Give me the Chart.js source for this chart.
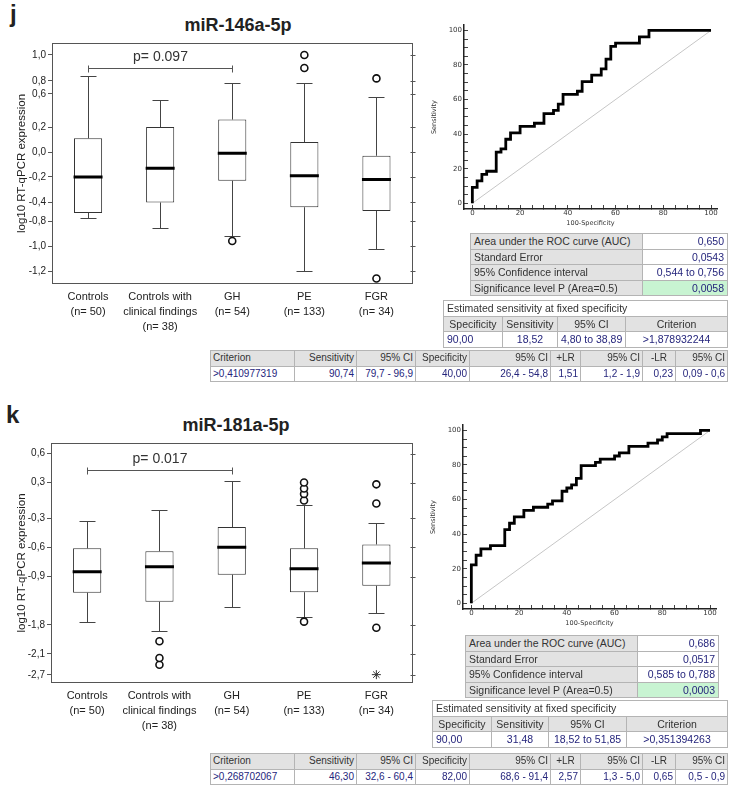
<!DOCTYPE html>
<html>
<head>
<meta charset="utf-8">
<script src="https://cdn.jsdelivr.net/npm/chart.js@4.4.1/dist/chart.umd.min.js"></script>
<style>
body { margin: 0; width: 733px; height: 793px; position: relative; background: #fff; overflow: hidden;
  font-family: "Liberation Sans", Arial, sans-serif; color: #222; }
canvas, .txt, table { position: absolute; }
.letter { font-size: 24px; font-weight: bold; line-height: 24px; }
.title { font-size: 18px; font-weight: bold; width: 200px; text-align: center; line-height: 20px; }
table { border-collapse: collapse; table-layout: fixed; font-size: 10.5px; }
td { border: 1px solid #b4b4b4; height: 14.6px; line-height: 14px; padding: 0 3px; white-space: nowrap; overflow: hidden; color: #333; background: #fff; }
table.crit { font-size: 10px; }
table.crit td { padding: 0 2px; }
td.h { background: #e2e2e2; }
td.v { color: #25257c; text-align: right; }
td.r { text-align: right; }
td.c { text-align: center; }
td.l { text-align: left; }
td.g { background: #c8f4d2; }
</style>
</head>
<body>
<div class="txt letter" style="left:10px;top:2px">j</div>
<div class="txt title" style="left:138px;top:15px">miR-146a-5p</div>
<canvas id="boxJ" width="430" height="345" style="left:0;top:0"></canvas>
<canvas id="rocJ" width="303" height="220" style="left:430px;top:15px"></canvas>
<table id="aucTabJ" style="left:470px;top:233px;width:257px"></table>
<table id="fixTabJ" style="left:443px;top:300px;width:284px"></table>
<table id="critTabJ" class="crit" style="left:210px;top:350px;width:517px"></table>

<div class="txt letter" style="left:6px;top:403px">k</div>
<div class="txt title" style="left:136px;top:415px">miR-181a-5p</div>
<canvas id="boxK" width="430" height="345" style="left:0;top:400px"></canvas>
<canvas id="rocK" width="303" height="220" style="left:429px;top:415px"></canvas>
<table id="aucTabK" style="left:465px;top:635px;width:253px"></table>
<table id="fixTabK" style="left:432px;top:700px;width:295px"></table>
<table id="critTabK" class="crit" style="left:210px;top:753px;width:517px"></table>

<script>
Chart.defaults.font.family = '"Liberation Sans", Arial, sans-serif';

const groups = [['Controls', '(n= 50)'], ['Controls with', 'clinical findings', '(n= 38)'],
  ['GH', '(n= 54)'], ['PE', '(n= 133)'], ['FGR', '(n= 34)']];

// miR-146a-5p box plot (log10 values)
const jMin = [-0.74, -0.86, -0.92, -1.20, -1.02];
const jQ1 = [-0.63, -0.41, -0.23, -0.51, -0.59];
const jMed = [-0.20, -0.13, -0.01, -0.19, -0.22];
const jQ3 = [0.11, 0.20, 0.29, 0.08, -0.03];
const jMax = [0.84, 0.53, 0.77, 0.77, 0.56];
const jOut = [[], [], [-0.96], [1.00, 0.90], [0.82, -1.26]];
// broken axis: labelled values and where they sit on the drawn axis
const jTickVals = [1.0, 0.8, 0.6, 0.2, 0.0, -0.2, -0.4, -0.8, -1.0, -1.2];
const jTickPos = [0.776, 0.568, 0.464, 0.2, 0, -0.2, -0.4, -0.552, -0.752, -0.952];

// miR-181a-5p box plot
const kMin = [-1.75, -1.86, -1.47, -1.66, -1.57];
const kQ1 = [-1.20, -1.37, -0.88, -1.19, -1.07];
const kMed = [-0.85, -0.80, -0.60, -0.82, -0.76];
const kQ3 = [-0.61, -0.64, -0.39, -0.61, -0.57];
const kMax = [-0.33, -0.16, 0.32, -0.08, -0.35];
const kOut = [[], [-1.97, -2.22, -2.41], [], [0.30, 0.20, 0.11, 0.00, -1.74], [0.27, -0.05, -1.83]];
const kExtreme = [null, null, null, null, -2.69];
const kTickVals = [0.6, 0.3, -0.3, -0.6, -0.9, -1.8, -2.1, -2.7];
const kTickPos = [0.372, 0.072, -0.3, -0.6, -0.904, -1.404, -1.704, -1.924];

// ROC curves (100-specificity, sensitivity)
const rocJx = [0, 2, 4, 6, 10, 12, 14, 16, 20, 26, 30, 34, 36, 38, 44, 46, 50, 54, 56, 58, 60, 70, 74, 100];
const rocJy = [0, 9.26, 12.96, 16.67, 18.52, 29.63, 31.48, 37.04, 40.74, 44.44, 46.30, 51.85, 53.70, 57.41,
  62.96, 64.81, 70.37, 74.07, 77.78, 83.33, 90.74, 92.59, 96.30, 100];
const rocKx = [0, 0, 2, 4, 8, 14, 16, 18, 22, 26, 32, 34, 38, 40, 42, 44, 46, 52, 54, 60, 62, 66, 74, 78, 80, 82, 96, 98, 100];
const rocKy = [0, 16.67, 22.22, 27.78, 31.48, 33.33, 42.59, 46.30, 50.00, 53.70, 55.56, 57.41, 59.26, 64.81,
  66.67, 68.52, 72.22, 79.63, 81.48, 83.33, 85.19, 87.04, 90.74, 92.59, 94.44, 96.30, 98.15, 100, 100];
const diagX = [0, 100];
const diagY = [0, 100];
const rocTicks = [0, 5, 10, 15, 20, 25, 30, 35, 40, 45, 50, 55, 60, 65, 70, 75, 80, 85, 90, 95, 100];

// tables
const aucLabels = ['Area under the ROC curve (AUC)', 'Standard Error', '95% Confidence interval', 'Significance level P (Area=0.5)'];
const aucJ = ['0,650', '0,0543', '0,544 to 0,756', '0,0058'];
const aucK = ['0,686', '0,0517', '0,585 to 0,788', '0,0003'];
const fixHead = ['Specificity', 'Sensitivity', '95% CI', 'Criterion'];
const fixJ = ['90,00', '18,52', '4,80 to 38,89', '>1,878932244'];
const fixK = ['90,00', '31,48', '18,52 to 51,85', '>0,351394263'];
const critHead = ['Criterion', 'Sensitivity', '95% CI', 'Specificity', '95% CI', '+LR', '95% CI', '-LR', '95% CI'];
const critJ = ['>0,410977319', '90,74', '79,7 - 96,9', '40,00', '26,4 - 54,8', '1,51', '1,2 - 1,9', '0,23', '0,09 - 0,6'];
const critK = ['>0,268702067', '46,30', '32,6 - 60,4', '82,00', '68,6 - 91,4', '2,57', '1,3 - 5,0', '0,65', '0,5 - 0,9'];

// value -> position on the broken axis (vals descending)
function toAxis(v, vals, pos) {
  let i = 0;
  while (i < vals.length - 2 && v < vals[i + 1]) i++;
  const t = (v - vals[i]) / (vals[i + 1] - vals[i]);
  return pos[i] + t * (pos[i + 1] - pos[i]);
}
const fmt = v => v.toFixed(1).replace('.', ',');

function boxPlot(id, d, area) {
  const P = v => toAxis(v, d.tickVals, d.tickPos);
  const outSets = [];
  const maxOut = Math.max(...d.out.map(a => a.length));
  for (let k = 0; k < maxOut; k++) {
    outSets.push({
      type: 'line', data: d.out.map(a => a[k] === undefined ? null : P(a[k])), showLine: false,
      pointStyle: 'circle', pointRadius: 3.5, pointBorderWidth: 1.6,
      pointBackgroundColor: '#fff', pointBorderColor: '#111', order: 1
    });
  }
  if (d.extreme) {
    outSets.push({
      type: 'line', data: d.extreme.map(v => v === null ? null : P(v)), showLine: false,
      pointStyle: 'star', pointRadius: 4.5, pointBorderWidth: 1, pointBorderColor: '#333',
      pointBackgroundColor: '#333', order: 1
    });
  }
  const lo = d.min.map(P), q1 = d.q1.map(P), q3 = d.q3.map(P), hi = d.max.map(P);

  const extras = {
    id: 'boxExtras',
    beforeDatasetsDraw(chart) {
      const { ctx, scales: { x, y } } = chart;
      ctx.save();
      ctx.strokeStyle = '#444';
      ctx.lineWidth = 1;
      lo.forEach((l, i) => {
        const cx = Math.round(x.getPixelForValue(i)) + 0.5;
        [[q1[i], l], [q3[i], hi[i]]].forEach(([a, b]) => {
          const ya = y.getPixelForValue(a), yb = Math.round(y.getPixelForValue(b)) + 0.5;
          ctx.beginPath();
          ctx.moveTo(cx, ya); ctx.lineTo(cx, yb);
          ctx.moveTo(cx - 8, yb); ctx.lineTo(cx + 8, yb);
          ctx.stroke();
        });
      });
      ctx.restore();
    },
    afterDraw(chart) {
      const { ctx, chartArea: c, scales: { x, y } } = chart;
      ctx.save();
      ctx.strokeStyle = '#555';
      ctx.lineWidth = 1;
      const L = Math.round(c.left) + 0.5, R = Math.round(c.right) - 0.5;
      const T = Math.round(c.top) + 0.5, B = Math.round(c.bottom) - 0.5;
      ctx.strokeRect(L, T, R - L, B - T);
      ctx.beginPath();
      d.tickPos.forEach(v => {
        const yy = Math.round(y.getPixelForValue(v)) + 0.5;
        ctx.moveTo(R - 2, yy); ctx.lineTo(R + 3, yy);
      });
      ctx.stroke();
      // significance bracket
      const x0 = Math.round(x.getPixelForValue(d.bracket.from)) + 0.5;
      const x1 = Math.round(x.getPixelForValue(d.bracket.to)) + 0.5;
      const by = Math.round(y.getPixelForValue(P(d.bracket.at))) + 0.5;
      ctx.beginPath();
      ctx.moveTo(x0, by); ctx.lineTo(x1, by);
      ctx.moveTo(x0, by - 3); ctx.lineTo(x0, by + 4);
      ctx.moveTo(x1, by - 3); ctx.lineTo(x1, by + 4);
      ctx.stroke();
      ctx.fillStyle = '#333';
      ctx.font = '14px "Liberation Sans", Arial, sans-serif';
      ctx.textAlign = 'center';
      ctx.textBaseline = 'middle';
      ctx.fillText(d.bracket.text, (x0 + x1) / 2, by - 11);
      ctx.restore();
    }
  };

  new Chart(document.getElementById(id), {
    type: 'bar',
    data: {
      labels: groups,
      datasets: [
        { type: 'line', data: d.med.map(P), showLine: false, pointStyle: 'line', pointRadius: 14.5,
          pointBorderWidth: 3, pointBorderColor: '#000', pointBackgroundColor: '#000', order: 0 },
        ...outSets,
        { type: 'bar', data: q1.map((q, i) => [q, q3[i]]), backgroundColor: '#fff', borderColor: '#333',
          borderWidth: 1, borderSkipped: false, barPercentage: 0.39, categoryPercentage: 1, order: 2 }
      ]
    },
    options: {
      responsive: false, animation: false, devicePixelRatio: 1,
      layout: { padding: { left: 0, top: area.top, right: area.right, bottom: 0 } },
      plugins: { legend: { display: false }, tooltip: { enabled: false } },
      scales: {
        x: {
          grid: { display: false, drawTicks: false }, border: { display: false },
          ticks: { color: '#222', font: { size: 11, lineHeight: 1.37 }, padding: 5, maxRotation: 0, autoSkip: false },
          afterFit: s => { s.height = area.xh; }
        },
        y: {
          min: d.range[0], max: d.range[1],
          grid: { drawOnChartArea: false, tickLength: 4, color: '#555' }, border: { display: false },
          ticks: { autoSkip: false, color: '#222', font: { size: 10 }, padding: 2,
            callback: (v, i) => fmt(d.tickVals[i]) },
          afterBuildTicks: s => { s.ticks = d.tickPos.map(v => ({ value: v })); },
          afterFit: s => { s.width = area.yw; },
          title: { display: true, text: 'log10 RT-qPCR expression', color: '#222', font: { size: 11.5 },
            padding: { top: 15, bottom: 0 } }
        }
      }
    },
    plugins: [extras]
  });
}

function rocPlot(id, xs, ys) {
  const small = { family: '"DejaVu Sans", sans-serif', size: 7 };
  const tiny = { family: '"DejaVu Sans", sans-serif', size: 6.5 };
  new Chart(document.getElementById(id), {
    type: 'scatter',
    data: {
      datasets: [
        { data: xs.map((x, i) => ({ x, y: ys[i] })), showLine: true, stepped: 'after',
          borderColor: '#000', borderWidth: 2.8, pointRadius: 0, backgroundColor: '#000' },
        { data: diagX.map((x, i) => ({ x, y: diagY[i] })), showLine: true,
          borderColor: '#c6c6c6', borderWidth: 1, pointRadius: 0, backgroundColor: '#c6c6c6' }
      ]
    },
    options: {
      responsive: false, animation: false, devicePixelRatio: 1,
      layout: { padding: { left: 0, top: 10, right: 16, bottom: 0 } },
      plugins: { legend: { display: false }, tooltip: { enabled: false } },
      scales: {
        x: {
          type: 'linear', min: -3.5, max: 102.5,
          afterBuildTicks: s => { s.ticks = rocTicks.map(v => ({ value: v })); },
          ticks: { autoSkip: false, maxRotation: 0, color: '#333', font: small, padding: 4,
            callback: v => (v % 20 === 0 ? String(v) : '') },
          grid: { drawOnChartArea: false, tickLength: -4, color: '#444' },
          border: { color: '#222', width: 1.5 },
          title: { display: true, text: '100-Specificity', color: '#333', font: tiny, padding: { top: 0, bottom: 8 } },
          afterFit: s => { s.height = 26; }
        },
        y: {
          type: 'linear', min: -3.3, max: 103,
          afterBuildTicks: s => { s.ticks = rocTicks.map(v => ({ value: v })); },
          ticks: { autoSkip: false, color: '#333', font: small, padding: 6,
            callback: v => (v % 20 === 0 ? String(v) : '') },
          grid: { drawOnChartArea: false, tickLength: -4, color: '#444' },
          border: { color: '#222', width: 1.5 },
          title: { display: true, text: 'Sensitivity', color: '#333', font: tiny, padding: { top: 0, bottom: 0 } },
          afterFit: s => { s.width = 34; }
        }
      }
    }
  });
}

function makeTable(id, widths, rows) {
  const t = document.getElementById(id);
  t.innerHTML = '<colgroup>' + widths.map(w => `<col style="width:${w}px">`).join('') + '</colgroup>' +
    rows.map(r => '<tr>' + r.map(c => `<td class="${c[1] || ''}"${c[2] ? ` colspan="${c[2]}"` : ''}>${c[0]}</td>`).join('') + '</tr>').join('');
}

function aucTable(id, widths, vals) {
  makeTable(id, widths, aucLabels.map((l, i) => [[l, 'h'], [vals[i], i === 3 ? 'v g' : 'v']]));
}
function fixTable(id, widths, vals) {
  makeTable(id, widths, [
    [['Estimated sensitivity at fixed specificity', 'l', 4]],
    fixHead.map(h => [h, 'h c']),
    vals.map((v, i) => [v, i === 0 ? 'v l' : 'v c'])
  ]);
}
function critTable(id, vals) {
  const w = [84, 62, 59, 54, 81, 30, 62, 33, 52];
  makeTable(id, w, [
    critHead.map((h, i) => [h, i === 0 ? 'h l' : (i === 5 || i === 7 ? 'h c' : 'h r')]),
    vals.map((v, i) => [v, i === 0 ? 'v l' : 'v'])
  ]);
}

boxPlot('boxJ', { min: jMin, q1: jQ1, med: jMed, q3: jQ3, max: jMax, out: jOut,
  tickVals: jTickVals, tickPos: jTickPos, range: [-1.056, 0.872],
  bracket: { from: 0, to: 2, at: 0.90, text: 'p= 0.097' } }, { top: 43, right: 6, yw: 52, xh: 61 });
boxPlot('boxK', { min: kMin, q1: kQ1, med: kMed, q3: kQ3, max: kMax, out: kOut, extreme: kExtreme,
  tickVals: kTickVals, tickPos: kTickPos, range: [-2.007, 0.482],
  bracket: { from: 0, to: 2, at: 0.43, text: 'p= 0.017' } }, { top: 43, right: 7, yw: 51, xh: 62 });
rocPlot('rocJ', rocJx, rocJy);
rocPlot('rocK', rocKx, rocKy);

aucTable('aucTabJ', [172, 85], aucJ);
aucTable('aucTabK', [172, 81], aucK);
fixTable('fixTabJ', [59, 55, 68, 102], fixJ);
fixTable('fixTabK', [59, 57, 78, 101], fixK);
critTable('critTabJ', critJ);
critTable('critTabK', critK);
</script>
</body>
</html>
